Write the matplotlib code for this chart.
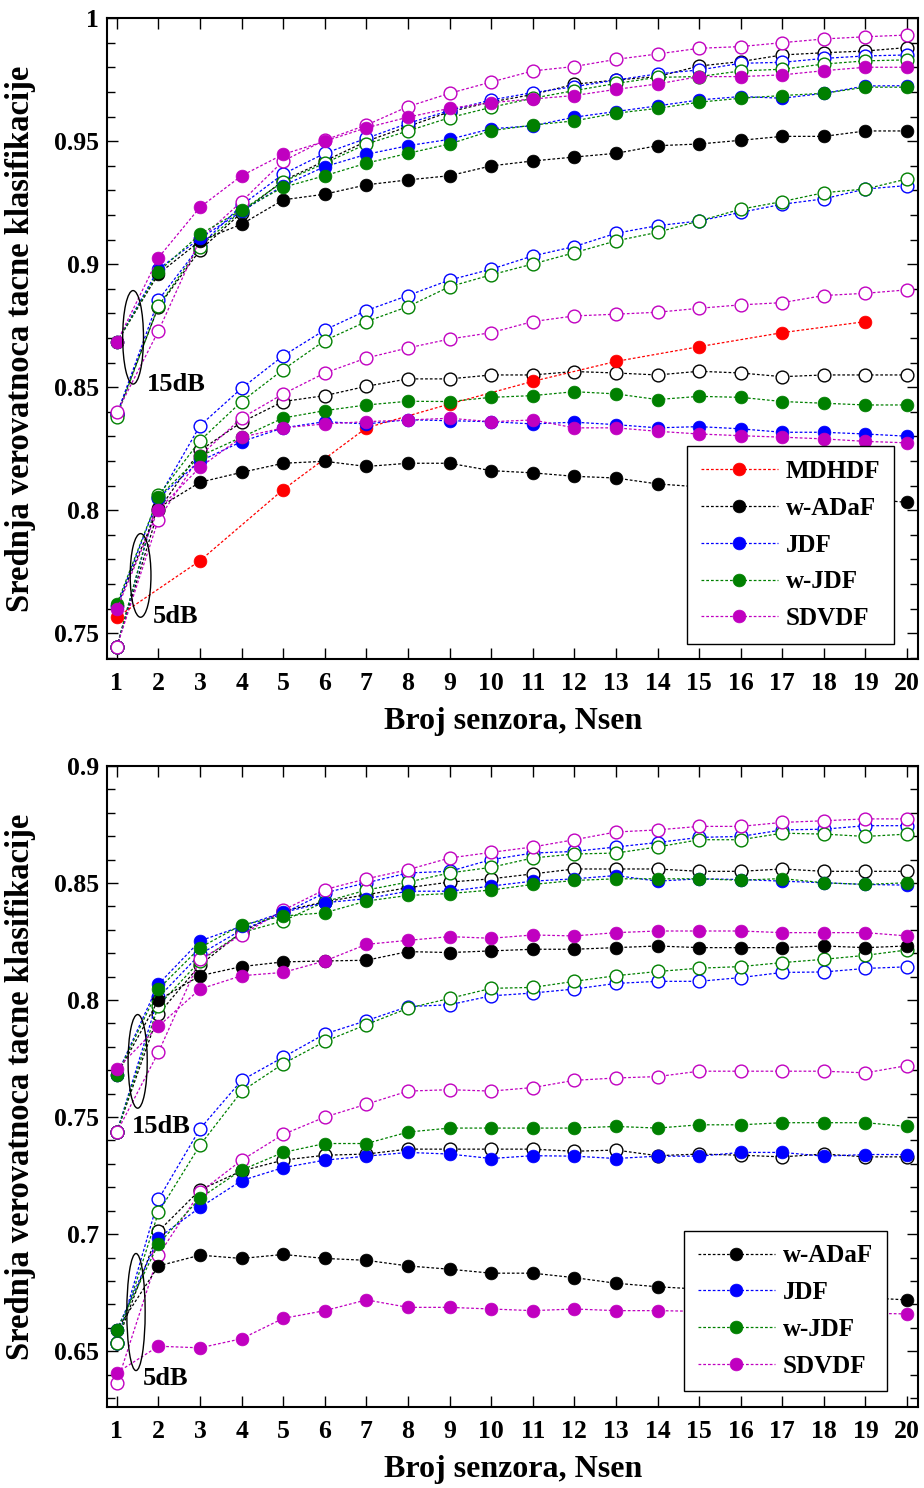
import matplotlib
matplotlib.use("Agg")
import matplotlib.pyplot as plt
from matplotlib.patches import Ellipse
from matplotlib.ticker import MultipleLocator, FuncFormatter

plt.rcParams['font.family'] = ['Liberation Serif', 'DejaVu Serif']
plt.rcParams['font.weight'] = 'bold'

N_sen = list(range(1, 21))
N_odd = list(range(1, 20, 2))

methods = ["MDHDF", "w-ADaF", "JDF", "w-JDF", "SDVDF"]
colors = {"MDHDF": "#ff0000", "w-ADaF": "#000000", "JDF": "#0000ff",
          "w-JDF": "#008000", "SDVDF": "#c000c0"}

# ---------------- Top panel ----------------
top_MDHDF_filled_5 = [0.7565, 0.7795, 0.8084, 0.8335, 0.8432, 0.8524, 0.8605, 0.8665, 0.8722, 0.8767]

top_wADaF_filled_15 = [0.8683, 0.8961, 0.9095, 0.9163, 0.9262, 0.9285, 0.9323, 0.9343, 0.9360, 0.9400,
                       0.9420, 0.9436, 0.9451, 0.9482, 0.9489, 0.9504, 0.9520, 0.9520, 0.9542, 0.9542]
top_wADaF_open_15 = [0.8390, 0.8828, 0.9058, 0.9210, 0.9340, 0.9420, 0.9500, 0.9560, 0.9620, 0.9660,
                     0.9690, 0.9732, 0.9749, 0.9763, 0.9806, 0.9824, 0.9851, 0.9860, 0.9867, 0.9881]
top_JDF_filled_15 = [0.8683, 0.8981, 0.9105, 0.9215, 0.9320, 0.9397, 0.9447, 0.9482, 0.9508, 0.9551,
                     0.9563, 0.9598, 0.9621, 0.9644, 0.9668, 0.9682, 0.9675, 0.9695, 0.9725, 0.9726]
top_JDF_open_15 = [0.8390, 0.8855, 0.9075, 0.9240, 0.9367, 0.9451, 0.9512, 0.9573, 0.9625, 0.9668,
                   0.9698, 0.9722, 0.9749, 0.9774, 0.9790, 0.9817, 0.9821, 0.9837, 0.9847, 0.9851]
top_wJDF_filled_15 = [0.8683, 0.8970, 0.9122, 0.9221, 0.9313, 0.9360, 0.9411, 0.9451, 0.9489, 0.9543,
                      0.9566, 0.9583, 0.9614, 0.9634, 0.9659, 0.9675, 0.9686, 0.9695, 0.9720, 0.9720]
top_wJDF_open_15 = [0.8381, 0.8831, 0.9072, 0.9218, 0.9336, 0.9411, 0.9489, 0.9542, 0.9596, 0.9638,
                    0.9675, 0.9706, 0.9735, 0.9760, 0.9763, 0.9786, 0.9793, 0.9814, 0.9827, 0.9831]
top_SDVDF_filled_15 = [0.8683, 0.9027, 0.9232, 0.9360, 0.9447, 0.9500, 0.9555, 0.9598, 0.9634, 0.9657,
                       0.9672, 0.9686, 0.9711, 0.9733, 0.9763, 0.9763, 0.9770, 0.9787, 0.9801, 0.9801]
top_SDVDF_open_15 = [0.8398, 0.8729, 0.9102, 0.9255, 0.9420, 0.9505, 0.9566, 0.9641, 0.9695, 0.9741,
                     0.9786, 0.9804, 0.9833, 0.9855, 0.9878, 0.9885, 0.9901, 0.9916, 0.9925, 0.9932]

top_wADaF_filled_5 = [0.7610, 0.8010, 0.8114, 0.8154, 0.8191, 0.8199, 0.8178, 0.8191, 0.8191, 0.8161,
                      0.8152, 0.8138, 0.8131, 0.8107, 0.8095, 0.8082, 0.8070, 0.8058, 0.8046, 0.8032]
top_wADaF_open_5 = [0.7446, 0.8000, 0.8243, 0.8358, 0.8442, 0.8466, 0.8504, 0.8534, 0.8534, 0.8550,
                    0.8550, 0.8564, 0.8558, 0.8550, 0.8565, 0.8558, 0.8543, 0.8550, 0.8550, 0.8550]
top_JDF_filled_5 = [0.7610, 0.8050, 0.8200, 0.8279, 0.8335, 0.8360, 0.8351, 0.8368, 0.8364, 0.8360,
                    0.8351, 0.8358, 0.8348, 0.8335, 0.8340, 0.8331, 0.8317, 0.8317, 0.8310, 0.8301]
top_JDF_open_5 = [0.7446, 0.8050, 0.8344, 0.8496, 0.8628, 0.8733, 0.8812, 0.8873, 0.8936, 0.8980,
                  0.9034, 0.9072, 0.9126, 0.9157, 0.9176, 0.9211, 0.9244, 0.9266, 0.9306, 0.9320]
top_wJDF_filled_5 = [0.7619, 0.8053, 0.8220, 0.8297, 0.8375, 0.8405, 0.8428, 0.8443, 0.8442, 0.8459,
                     0.8466, 0.8482, 0.8473, 0.8450, 0.8463, 0.8459, 0.8442, 0.8435, 0.8428, 0.8428]
top_wJDF_open_5 = [0.7446, 0.8060, 0.8283, 0.8442, 0.8572, 0.8690, 0.8767, 0.8828, 0.8909, 0.8957,
                   0.9001, 0.9047, 0.9095, 0.9130, 0.9176, 0.9224, 0.9255, 0.9291, 0.9306, 0.9347]
top_SDVDF_filled_5 = [0.7599, 0.8003, 0.8175, 0.8297, 0.8335, 0.8351, 0.8360, 0.8367, 0.8374, 0.8360,
                      0.8367, 0.8335, 0.8335, 0.8321, 0.8310, 0.8303, 0.8297, 0.8290, 0.8280, 0.8274]
top_SDVDF_open_5 = [0.7446, 0.7962, 0.8222, 0.8375, 0.8473, 0.8558, 0.8619, 0.8660, 0.8696, 0.8722,
                    0.8767, 0.8790, 0.8797, 0.8805, 0.8821, 0.8835, 0.8844, 0.8873, 0.8882, 0.8896]

# ---------------- Bottom panel ----------------
bot_wADaF_filled_15 = [0.7680, 0.8000, 0.8104, 0.8143, 0.8163, 0.8167, 0.8170, 0.8207, 0.8203, 0.8210,
                       0.8217, 0.8217, 0.8224, 0.8231, 0.8224, 0.8224, 0.8224, 0.8231, 0.8224, 0.8231]
bot_wADaF_open_15 = [0.7436, 0.7940, 0.8150, 0.8290, 0.8380, 0.8420, 0.8450, 0.8480, 0.8504, 0.8518,
                     0.8539, 0.8560, 0.8560, 0.8560, 0.8550, 0.8550, 0.8560, 0.8550, 0.8550, 0.8550]
bot_JDF_filled_15 = [0.7680, 0.8068, 0.8253, 0.8315, 0.8375, 0.8416, 0.8433, 0.8465, 0.8465, 0.8487,
                     0.8508, 0.8518, 0.8532, 0.8508, 0.8518, 0.8515, 0.8508, 0.8501, 0.8494, 0.8491]
bot_JDF_open_15 = [0.7436, 0.8011, 0.8196, 0.8300, 0.8370, 0.8458, 0.8501, 0.8543, 0.8550, 0.8600,
                   0.8628, 0.8635, 0.8654, 0.8673, 0.8695, 0.8699, 0.8727, 0.8730, 0.8745, 0.8745]
bot_wJDF_filled_15 = [0.7678, 0.8047, 0.8224, 0.8321, 0.8359, 0.8373, 0.8423, 0.8447, 0.8455, 0.8470,
                      0.8494, 0.8511, 0.8518, 0.8518, 0.8518, 0.8512, 0.8519, 0.8501, 0.8494, 0.8501]
bot_wJDF_open_15 = [0.7436, 0.7976, 0.8167, 0.8288, 0.8338, 0.8420, 0.8470, 0.8504, 0.8543, 0.8567,
                    0.8607, 0.8624, 0.8628, 0.8654, 0.8685, 0.8685, 0.8713, 0.8709, 0.8699, 0.8709]
bot_SDVDF_filled_15 = [0.7706, 0.7888, 0.8047, 0.8104, 0.8118, 0.8167, 0.8238, 0.8255, 0.8271, 0.8264,
                       0.8278, 0.8274, 0.8288, 0.8295, 0.8295, 0.8295, 0.8288, 0.8288, 0.8288, 0.8274]
bot_SDVDF_open_15 = [0.7436, 0.7777, 0.8174, 0.8278, 0.8384, 0.8472, 0.8518, 0.8557, 0.8607, 0.8631,
                     0.8654, 0.8685, 0.8718, 0.8727, 0.8742, 0.8742, 0.8759, 0.8766, 0.8774, 0.8774]

bot_wADaF_filled_5 = [0.6591, 0.6864, 0.6910, 0.6896, 0.6913, 0.6896, 0.6888, 0.6864, 0.6850, 0.6833,
                      0.6833, 0.6814, 0.6790, 0.6775, 0.6765, 0.6755, 0.6745, 0.6737, 0.6728, 0.6719]
bot_wADaF_open_5 = [0.6536, 0.7012, 0.7189, 0.7270, 0.7316, 0.7337, 0.7342, 0.7363, 0.7363, 0.7363,
                    0.7363, 0.7354, 0.7359, 0.7335, 0.7342, 0.7337, 0.7330, 0.7342, 0.7330, 0.7330]
bot_JDF_filled_5 = [0.6591, 0.6984, 0.7114, 0.7229, 0.7284, 0.7316, 0.7333, 0.7349, 0.7342, 0.7323,
                    0.7335, 0.7333, 0.7323, 0.7333, 0.7333, 0.7349, 0.7349, 0.7333, 0.7340, 0.7340]
bot_JDF_open_5 = [0.6536, 0.7149, 0.7450, 0.7657, 0.7756, 0.7855, 0.7912, 0.7972, 0.7980, 0.8018,
                  0.8030, 0.8047, 0.8071, 0.8080, 0.8080, 0.8096, 0.8118, 0.8120, 0.8135, 0.8142]
bot_wJDF_filled_5 = [0.6591, 0.6958, 0.7154, 0.7274, 0.7349, 0.7387, 0.7387, 0.7436, 0.7453, 0.7453,
                     0.7453, 0.7453, 0.7460, 0.7453, 0.7467, 0.7467, 0.7476, 0.7476, 0.7476, 0.7460]
bot_wJDF_open_5 = [0.6536, 0.7093, 0.7380, 0.7610, 0.7728, 0.7823, 0.7895, 0.7965, 0.8007, 0.8050,
                   0.8054, 0.8080, 0.8104, 0.8122, 0.8136, 0.8143, 0.8160, 0.8174, 0.8191, 0.8214]
bot_SDVDF_filled_5 = [0.6408, 0.6521, 0.6514, 0.6553, 0.6640, 0.6673, 0.6719, 0.6687, 0.6687, 0.6680,
                      0.6673, 0.6680, 0.6673, 0.6673, 0.6670, 0.6668, 0.6666, 0.6664, 0.6662, 0.6659]
bot_SDVDF_open_5 = [0.6362, 0.6910, 0.7179, 0.7316, 0.7426, 0.7500, 0.7555, 0.7611, 0.7617, 0.7611,
                    0.7626, 0.7657, 0.7667, 0.7673, 0.7696, 0.7696, 0.7696, 0.7696, 0.7689, 0.7720]

x_label = "Broj senzora, Nsen"
y_label = "Srednja verovatnoca tacne klasifikacije"

LS = (0, (2.2, 1.6))
MS = 9.2


def series(ax, x, y, method, filled, label=None):
    c = colors[method]
    ax.plot(x, y, linestyle=LS, linewidth=0.9, color=c, marker='o', markersize=MS,
            markerfacecolor=c if filled else 'white', markeredgecolor=c,
            markeredgewidth=1.0 if not filled else 0.5, label=label, zorder=3 if filled else 2.5)


fig = plt.figure(figsize=(9.24, 14.88), dpi=100)
W, H = 924, 1488
ax1 = fig.add_axes([107.3 / W, 1 - 659.3 / H, 811 / W, 641 / H])
ax2 = fig.add_axes([107.3 / W, 1 - 1407.3 / H, 811 / W, 641.3 / H])

series(ax1, N_odd, top_MDHDF_filled_5, "MDHDF", True, "MDHDF")
groups_top = [
    ("w-ADaF", top_wADaF_open_15, top_wADaF_filled_15, top_wADaF_open_5, top_wADaF_filled_5),
    ("JDF", top_JDF_open_15, top_JDF_filled_15, top_JDF_open_5, top_JDF_filled_5),
    ("w-JDF", top_wJDF_open_15, top_wJDF_filled_15, top_wJDF_open_5, top_wJDF_filled_5),
    ("SDVDF", top_SDVDF_open_15, top_SDVDF_filled_15, top_SDVDF_open_5, top_SDVDF_filled_5),
]
for m, o15, f15, o5, f5 in groups_top:
    series(ax1, N_sen, o15, m, False)
    series(ax1, N_sen, o5, m, False)
    series(ax1, N_sen, f15, m, True, m)
    series(ax1, N_sen, f5, m, True)

groups_bot = [
    ("w-ADaF", bot_wADaF_open_15, bot_wADaF_filled_15, bot_wADaF_open_5, bot_wADaF_filled_5),
    ("JDF", bot_JDF_open_15, bot_JDF_filled_15, bot_JDF_open_5, bot_JDF_filled_5),
    ("w-JDF", bot_wJDF_open_15, bot_wJDF_filled_15, bot_wJDF_open_5, bot_wJDF_filled_5),
    ("SDVDF", bot_SDVDF_open_15, bot_SDVDF_filled_15, bot_SDVDF_open_5, bot_SDVDF_filled_5),
]
for m, o15, f15, o5, f5 in groups_bot:
    series(ax2, N_sen, o15, m, False)
    series(ax2, N_sen, o5, m, False)
    series(ax2, N_sen, f15, m, True, m)
    series(ax2, N_sen, f5, m, True)


def fmt(v, pos):
    return "%g" % round(v, 3)


for ax, ylim in [(ax1, (0.7394, 1.0)), (ax2, (0.626, 0.9))]:
    ax.set_xlim(0.77, 20.27)
    ax.set_ylim(*ylim)
    ax.set_xticks(N_sen)
    ax.yaxis.set_major_locator(MultipleLocator(0.05))
    ax.yaxis.set_minor_locator(MultipleLocator(0.01))
    ax.yaxis.set_major_formatter(FuncFormatter(fmt))
    ax.tick_params(axis='both', which='both', direction='in', top=True, right=True,
                   labelsize=18.5, width=1.0)
    ax.tick_params(axis='both', which='major', length=8)
    ax.tick_params(axis='y', which='minor', length=6)
    ax.tick_params(axis='x', which='major', pad=9)
    ax.tick_params(axis='y', which='major', pad=6)
    for lab in ax.get_xticklabels() + ax.get_yticklabels():
        lab.set_fontweight('bold')
    for sp in ax.spines.values():
        sp.set_linewidth(1.5)
    ax.set_xlabel(x_label, fontsize=23, fontweight='bold', labelpad=9)
    ax.set_ylabel(y_label, fontsize=23.5, fontweight='bold', labelpad=13)

ax1.add_patch(Ellipse((1.39, 0.8703), 0.5, 0.038, fill=False, edgecolor='black', lw=1.0, zorder=4))
ax1.add_patch(Ellipse((1.57, 0.7735), 0.5, 0.034, fill=False, edgecolor='black', lw=1.0, zorder=4))
ax1.text(1.72, 0.851, "15dB", fontsize=19, fontweight='bold', ha='left', va='center')
ax1.text(1.87, 0.757, "5dB", fontsize=19, fontweight='bold', ha='left', va='center')

ax2.add_patch(Ellipse((1.5, 0.7738), 0.46, 0.040, fill=False, edgecolor='black', lw=1.0, zorder=4))
ax2.add_patch(Ellipse((1.46, 0.6667), 0.44, 0.050, fill=False, edgecolor='black', lw=1.0, zorder=4))
ax2.text(1.36, 0.7458, "15dB", fontsize=19, fontweight='bold', ha='left', va='center')
ax2.text(1.63, 0.6383, "5dB", fontsize=19, fontweight='bold', ha='left', va='center')

leg_kw = dict(frameon=True, fancybox=False, edgecolor='black', framealpha=1,
              handlelength=3.1, handletextpad=0.3, labelspacing=0.55, borderpad=0.55,
              borderaxespad=0.0, prop={'weight': 'bold', 'size': 18})
l1 = ax1.legend(loc='lower right', bbox_to_anchor=(0.970, 0.024), **leg_kw)
l2 = ax2.legend(loc='lower right', bbox_to_anchor=(0.961, 0.025), **leg_kw)
for l in (l1, l2):
    l.get_frame().set_linewidth(1.0)
    l.set_zorder(10)

fig.savefig("out.png", dpi=100)
